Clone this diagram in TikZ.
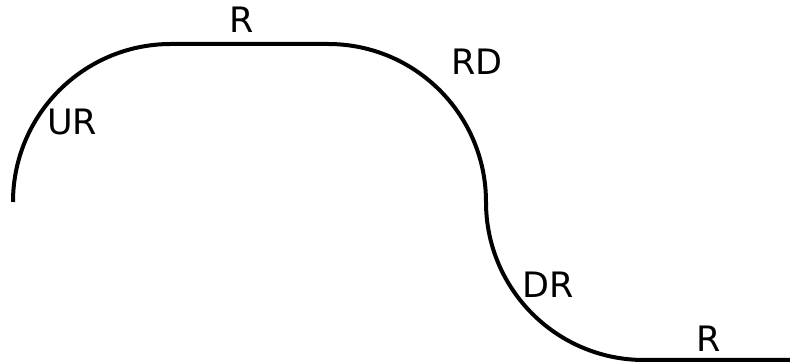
\documentclass[tikz,border=0pt]{standalone}
\usepackage{fontspec}
\setmainfont{DejaVu Sans}
\begin{document}
\begin{tikzpicture}[x=1pt,y=1pt,
  track/.style={line width=4pt,black},
  seglabel/.style={anchor=base,inner sep=0pt,font=\fontsize{35}{40}\selectfont}]
\useasboundingbox (0,0) rectangle (790,363);
% corner points of the track
\coordinate (start) at (13,161);
\coordinate (topL) at (171,319);
\coordinate (topR) at (328,319);
\coordinate (mid) at (486,161);
\coordinate (botL) at (644,3);
\coordinate (endp) at (790,3);
% the track: up-right, right, right-down, down-right, right
\draw[track] (start) arc[start angle=180,end angle=90,radius=158]
  -- (topR) arc[start angle=90,end angle=0,radius=158]
  arc[start angle=180,end angle=270,radius=158]
  -- (endp);
% segment labels
\node[seglabel] (lur) at (72,228) {UR};
\node[seglabel] (lr1) at (242,330) {R};
\node[seglabel] (lrd) at (477,288) {RD};
\node[seglabel] (ldr) at (548,65) {DR};
\node[seglabel] (lr2) at (709,11) {R};
\end{tikzpicture}
\end{document}
